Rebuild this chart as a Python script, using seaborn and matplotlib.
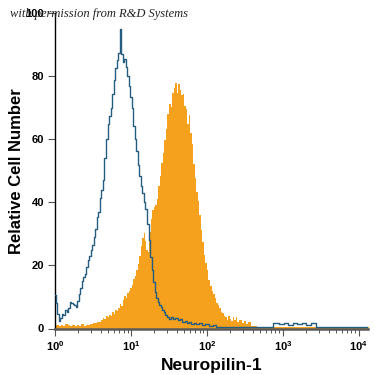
import numpy as np
import matplotlib
matplotlib.use("Agg")
import matplotlib.pyplot as plt
import matplotlib.ticker as mticker
import seaborn as sns

# === Data (log10 fluorescence, relative cell number) ===
stain_log = [0.00, 0.03, 0.06, 0.09, 0.12, 0.15, 0.18, 0.21, 0.24, 0.27, 0.30, 0.33,
             0.36, 0.39, 0.42, 0.45, 0.48, 0.51, 0.54, 0.57, 0.60, 0.62, 0.64, 0.66,
             0.68, 0.70, 0.72, 0.74, 0.76, 0.78, 0.80, 0.82, 0.84, 0.86, 0.88, 0.90,
             0.92, 0.94, 0.96, 0.98, 1.00, 1.02, 1.04, 1.06, 1.08, 1.10, 1.12, 1.14,
             1.16, 1.17, 1.19, 1.21, 1.23, 1.25, 1.27, 1.29, 1.31, 1.33, 1.35, 1.37,
             1.39, 1.41, 1.43, 1.45, 1.47, 1.49, 1.51, 1.53, 1.55, 1.57, 1.59, 1.61,
             1.63, 1.65, 1.67, 1.69, 1.71, 1.73, 1.75, 1.77, 1.79, 1.81, 1.83, 1.85,
             1.87, 1.89, 1.91, 1.93, 1.95, 1.97, 1.99, 2.01, 2.03, 2.05, 2.07, 2.09,
             2.11, 2.13, 2.15, 2.17, 2.19, 2.21, 2.23, 2.25, 2.27, 2.29, 2.31, 2.33,
             2.35, 2.37, 2.39, 2.41, 2.44, 2.47, 2.50, 2.53, 2.56, 2.60, 2.70, 2.90,
             3.20, 3.60, 4.00, 4.15]
stain_count = [0.8, 1.0, 0.7, 1.1, 0.9, 1.4, 1.2, 0.8, 1.0, 0.7, 1.0, 0.9,
               1.3, 0.8, 1.1, 1.0, 1.5, 1.7, 1.6, 2.2, 2.0, 2.8, 3.4, 3.0,
               3.9, 3.6, 4.4, 4.0, 5.2, 4.7, 5.9, 5.4, 6.6, 7.8, 7.2, 9.0,
               10.2, 9.6, 11.3, 12.0, 12.8, 13.9, 15.6, 16.5, 18.4, 20.6, 23.0, 26.1,
               28.8, 30.2, 27.6, 25.0, 24.3, 30.5, 34.8, 37.5, 38.6, 39.2, 41.0, 45.3,
               48.2, 52.4, 55.8, 59.7, 63.4, 68.0, 71.2, 70.1, 74.6, 76.3, 78.0, 74.8,
               77.4, 75.6, 73.9, 74.5, 70.4, 69.7, 64.8, 67.6, 62.0, 58.5, 52.3, 47.6,
               43.2, 40.4, 36.0, 31.2, 27.5, 23.4, 20.8, 18.7, 15.3, 13.6, 12.0, 10.9,
               9.6, 8.1, 7.4, 6.5, 5.3, 4.8, 4.1, 3.6, 2.8, 4.0, 3.1, 2.4,
               3.5, 2.6, 3.8, 2.0, 2.7, 1.6, 2.4, 1.5, 2.0, 0.9, 0.6, 0.5,
               0.5, 0.4, 0.4, 0.4]

iso_log = [0.00, 0.02, 0.04, 0.06, 0.08, 0.10, 0.12, 0.14, 0.16, 0.18, 0.20, 0.22,
           0.24, 0.26, 0.28, 0.30, 0.32, 0.34, 0.36, 0.38, 0.40, 0.42, 0.44, 0.46,
           0.48, 0.50, 0.52, 0.54, 0.56, 0.58, 0.60, 0.62, 0.64, 0.66, 0.68, 0.70,
           0.72, 0.74, 0.76, 0.78, 0.80, 0.82, 0.84, 0.86, 0.88, 0.90, 0.92, 0.94,
           0.96, 0.98, 1.00, 1.02, 1.04, 1.06, 1.08, 1.10, 1.12, 1.14, 1.16, 1.18,
           1.20, 1.22, 1.24, 1.26, 1.28, 1.30, 1.32, 1.34, 1.36, 1.38, 1.40, 1.42,
           1.44, 1.46, 1.48, 1.51, 1.54, 1.57, 1.60, 1.63, 1.66, 1.69, 1.72, 1.75,
           1.78, 1.81, 1.84, 1.88, 1.92, 1.96, 2.00, 2.05, 2.10, 2.15, 2.25, 2.40,
           2.60, 2.80, 2.92, 2.98, 3.04, 3.10, 3.16, 3.22, 3.28, 3.34, 3.40, 3.46,
           3.70, 4.00, 4.15]
iso_count = [10.5, 8.0, 4.7, 2.5, 3.2, 4.7, 4.4, 5.8, 5.3, 6.6, 8.4, 8.0,
             7.8, 7.4, 6.8, 8.8, 11.0, 12.9, 15.2, 16.3, 17.2, 19.4, 21.6, 23.0,
             24.8, 26.4, 29.0, 31.5, 35.3, 36.9, 41.5, 43.8, 47.0, 54.0, 60.2, 65.0,
             67.3, 70.0, 74.2, 78.7, 82.6, 85.0, 87.2, 95.0, 87.0, 84.4, 85.3, 83.0,
             80.1, 77.0, 73.5, 69.8, 64.2, 60.1, 56.3, 52.0, 48.5, 45.2, 43.0, 40.1,
             37.9, 33.2, 28.0, 22.6, 18.5, 14.8, 11.5, 9.8, 8.3, 7.6, 6.9, 6.0,
             5.2, 4.3, 3.6, 3.0, 3.5, 2.9, 3.4, 2.6, 3.0, 2.2, 2.5, 1.8,
             2.1, 1.5, 1.9, 1.4, 1.7, 1.2, 1.5, 0.9, 1.1, 0.6, 0.5, 0.4,
             0.4, 0.5, 1.6, 1.3, 1.7, 1.2, 1.8, 1.4, 1.7, 1.2, 1.6, 0.5,
             0.4, 0.4, 0.4]

y_ticks = [0, 20, 40, 60, 80, 100]
x_ticks = [1, 10, 100, 1000, 10000]
x_tick_labels = [r"$\mathbf{10^{0}}$", r"$\mathbf{10^{1}}$", r"$\mathbf{10^{2}}$",
                 r"$\mathbf{10^{3}}$", r"$\mathbf{10^{4}}$"]

# === Style ===
sns.set_theme(style="ticks")
plt.rcParams["font.family"] = ["Liberation Sans", "DejaVu Sans"]
plt.rcParams["mathtext.fontset"] = "custom"
plt.rcParams["mathtext.bf"] = "Liberation Sans:bold"
plt.rcParams["mathtext.rm"] = "Liberation Sans"
plt.rcParams["text.color"] = "black"
plt.rcParams["axes.labelcolor"] = "black"
plt.rcParams["xtick.labelcolor"] = "black"
plt.rcParams["ytick.labelcolor"] = "black"

ORANGE = "#f6a11e"
BLUE = "#245d80"

fig = plt.figure(figsize=(3.75, 3.75), dpi=100)
ax = fig.add_axes([0.147, 0.124, 0.834, 0.841])

stain_x = np.power(10.0, stain_log)
iso_x = np.power(10.0, iso_log)

# === Stained sample (filled) ===
ax.fill_between(stain_x, stain_count, step="mid", color=ORANGE, lw=0, zorder=2)

# === Isotype control (outline) ===
sns.lineplot(x=iso_x, y=iso_count, ax=ax, color=BLUE, lw=1.0,
             drawstyle="steps-mid", zorder=3, sort=False)

ax.set_xscale("log")
ax.set_xlim(1, 10 ** 4.12)
ax.set_ylim(0, 100)

ax.set_xticks(x_ticks)
ax.set_xticklabels(x_tick_labels)
ax.xaxis.set_minor_locator(mticker.LogLocator(base=10, subs=np.arange(2, 10)))
ax.xaxis.set_minor_formatter(mticker.NullFormatter())
ax.set_yticks(y_ticks)

ax.tick_params(axis="both", which="major", labelsize=8, length=5, width=0.8,
               color="#555555", labelcolor="black", pad=3)
ax.tick_params(axis="x", which="minor", length=3, width=0.7, color="#555555")
for lab in ax.get_yticklabels():
    lab.set_fontweight("bold")

sns.despine(ax=ax)
ax.spines["left"].set_color("black")
ax.spines["left"].set_linewidth(1.0)
ax.spines["bottom"].set_color("#5a5a5a")
ax.spines["bottom"].set_linewidth(1.8)
ax.spines["bottom"].set_zorder(4)

ax.set_xlabel("Neuropilin-1", fontsize=12.5, fontweight="bold", labelpad=3,
              color="black")
ax.set_ylabel("Relative Cell Number", fontsize=12, fontweight="bold", labelpad=1,
              color="black")

# === Watermark ===
fig.text(0.027, 0.962, "with permission from R&D Systems", fontsize=9,
         family="Liberation Serif", style="italic", color="#222222",
         va="center", ha="left", zorder=10)

fig.savefig("out.png", dpi=100)
plt.close(fig)
